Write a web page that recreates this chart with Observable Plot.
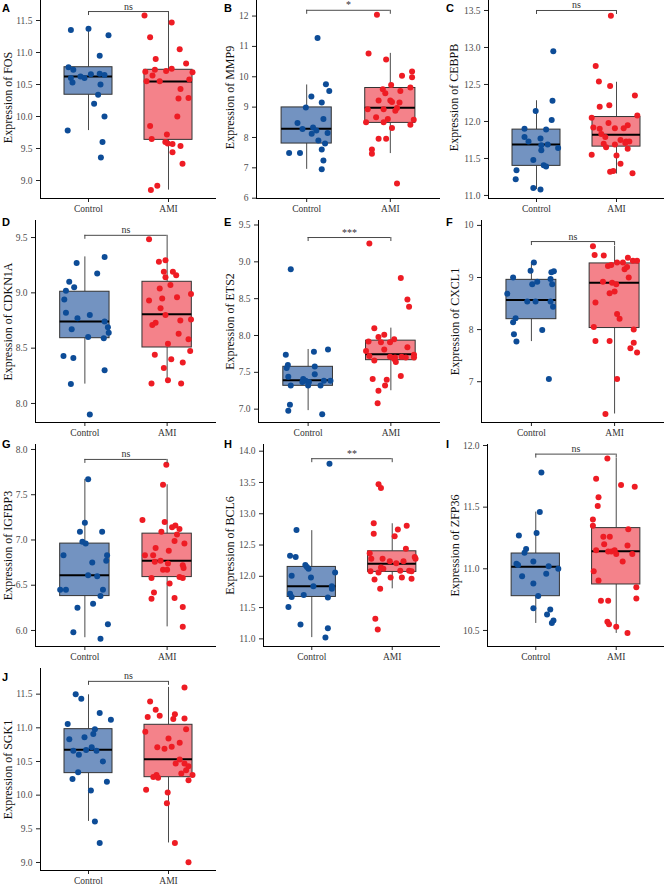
<!DOCTYPE html>
<html><head><meta charset="utf-8">
<script src="https://cdn.jsdelivr.net/npm/d3@7"></script>
<script src="https://cdn.jsdelivr.net/npm/@observablehq/plot@0.6"></script>
<style>
html,body{margin:0;padding:0;background:#fff;}
#fig{position:relative;width:665px;height:886px;overflow:hidden;background:#fff;}
.panel{position:absolute;}
.panel svg{overflow:visible;}
.letter{position:absolute;font-family:"Liberation Sans",Arial,sans-serif;font-weight:bold;font-size:11px;line-height:12px;color:#000;}
</style></head><body><div id="fig"></div>
<script>
// ---------- data ----------
const groups = ["Control", "AMI"];
const genes = ["FOS","MMP9","CEBPB","CDKN1A","ETS2","CXCL1","IGFBP3","BCL6","ZFP36","SGK1"];
const letters = ["A","B","C","D","E","F","G","H","I","J"];
const significance = ["ns","*","ns","ns","***","ns","ns","**","ns","ns"];

// points: [expression, horizontal jitter (category units)]
const FOS_control = [[11.35,-0.22],[11.37,0.0],[11.27,0.25],[10.95,0.14],[10.77,-0.25],[10.73,-0.19],[10.60,-0.22],[10.53,-0.20],[10.625,-0.10],[10.60,-0.05],[10.66,0.03],[10.67,0.14],[10.65,0.20],[10.50,0.15],[10.34,0.12],[10.20,0.07],[10.00,0.20],[9.78,-0.26],[9.60,0.175],[9.36,0.155]];
const FOS_AMI = [[11.58,-0.30],[11.47,0.04],[11.24,-0.23],[11.05,0.14],[10.90,-0.16],[10.83,0.22],[10.70,-0.29],[10.73,-0.17],[10.71,-0.03],[10.745,0.04],[10.69,0.30],[10.64,-0.20],[10.55,-0.275],[10.55,-0.11],[10.58,0.26],[10.43,0.15],[10.28,0.125],[10.29,0.25],[10.00,0.11],[9.85,-0.23],[9.65,-0.21],[9.72,-0.02],[9.60,-0.04],[9.58,-0.01],[9.57,0.05],[9.54,0.15],[9.44,0.05],[9.26,0.175],[8.92,-0.14],[8.85,-0.22]];

const MMP9_control = [[11.28,0.13],[9.75,0.23],[9.53,0.27],[9.35,0.056],[8.99,-0.01],[9.15,0.18],[8.61,0.2],[8.48,-0.11],[8.28,-0.05],[8.33,0.076],[8.23,0.116],[8.12,0.06],[8.15,0.25],[7.90,0.14],[7.80,0.22],[7.60,0.18],[7.49,-0.21],[7.49,-0.08],[7.24,0.2],[6.95,0.18]];
const MMP9_AMI = [[12.04,-0.16],[10.77,-0.26],[10.57,-0.05],[10.17,0.26],[10.03,0.14],[9.98,0.26],[9.73,0.01],[9.59,-0.09],[9.46,-0.06],[9.53,0.12],[9.65,0.24],[9.22,-0.14],[9.22,0.0],[9.17,0.02],[9.15,0.11],[8.93,-0.27],[8.93,-0.08],[8.97,0.08],[8.88,0.06],[8.67,-0.17],[8.61,-0.03],[8.58,0.28],[8.50,-0.29],[8.50,-0.08],[8.42,0.24],[8.31,0.02],[7.96,-0.14],[7.96,-0.05],[7.60,-0.22],[7.46,-0.22],[6.48,0.08]];

const CEBPB_control = [[12.95,0.21],[12.28,0.2],[12.02,0.19],[12.14,-0.01],[11.90,-0.15],[11.89,0.12],[11.79,-0.15],[11.73,-0.1],[11.77,0.05],[11.68,0.06],[11.69,0.14],[11.64,0.27],[11.61,0.06],[11.48,-0.04],[11.41,0.09],[11.39,0.12],[11.34,-0.25],[11.22,-0.26],[11.10,-0.04],[11.08,0.05]];
const CEBPB_AMI = [[13.43,-0.07],[12.75,-0.26],[12.54,-0.22],[12.48,-0.08],[12.35,0.23],[12.20,-0.21],[12.22,-0.09],[12.08,0.26],[12.05,-0.31],[11.92,-0.29],[11.98,-0.1],[11.90,-0.21],[11.91,-0.02],[11.91,0.09],[11.95,0.14],[11.83,-0.19],[11.79,-0.14],[11.75,0.05],[11.73,0.12],[11.73,0.16],[11.71,0.11],[11.69,-0.02],[11.70,-0.16],[11.65,-0.13],[11.63,0.14],[11.55,-0.31],[11.54,0.0],[11.43,0.05],[11.32,-0.08],[11.33,-0.04],[11.30,0.2]];

const CDKN1A_control = [[9.325,0.24],[9.27,-0.1],[9.175,0.15],[9.10,-0.19],[9.05,-0.13],[9.02,-0.23],[8.94,-0.25],[8.82,-0.23],[8.77,-0.09],[8.80,0.06],[8.74,0.24],[8.69,0.28],[8.64,0.29],[8.67,-0.16],[8.60,0.04],[8.59,0.23],[8.43,-0.26],[8.41,-0.14],[8.30,0.24],[8.175,-0.17],[7.90,0.06]];
const CDKN1A_AMI = [[9.485,-0.22],[9.28,-0.1],[9.295,-0.02],[9.19,-0.04],[9.19,0.07],[9.16,0.11],[9.14,-0.02],[9.07,0.04],[9.04,-0.09],[8.99,0.29],[8.96,0.12],[8.95,-0.06],[8.93,-0.22],[8.86,-0.08],[8.80,-0.02],[8.75,0.16],[8.76,0.29],[8.73,-0.14],[8.71,-0.18],[8.63,0.14],[8.58,0.26],[8.54,0.01],[8.475,0.28],[8.44,-0.15],[8.40,0.05],[8.37,0.19],[8.32,-0.04],[8.21,0.01],[8.18,-0.19],[8.18,0.17]];

const ETS2_control = [[8.90,-0.21],[7.74,-0.27],[7.60,-0.245],[7.56,-0.26],[7.78,0.07],[7.81,0.24],[7.58,0.08],[7.475,0.08],[7.44,-0.24],[7.41,-0.06],[7.385,-0.03],[7.37,0.01],[7.385,0.19],[7.385,0.27],[7.32,0.15],[7.32,0.0],[7.32,-0.21],[7.37,-0.07],[7.06,-0.22],[6.98,-0.24],[6.93,0.17]];
const ETS2_AMI = [[9.25,-0.26],[8.78,0.12],[8.49,0.2],[8.39,0.22],[8.10,-0.2],[8.01,-0.08],[7.98,-0.15],[7.95,0.04],[7.91,-0.01],[7.92,-0.27],[7.91,-0.12],[7.81,-0.08],[7.79,-0.3],[7.84,0.2],[7.72,-0.26],[7.71,-0.01],[7.70,0.05],[7.71,0.13],[7.70,0.18],[7.74,0.28],[7.70,0.28],[7.66,-0.2],[7.68,0.04],[7.64,0.06],[7.45,0.12],[7.41,-0.22],[7.40,-0.05],[7.32,-0.07],[7.25,-0.15],[7.08,-0.16]];

const CXCL1_control = [[9.29,0.03],[9.13,-0.01],[9.00,-0.22],[8.97,0.23],[9.12,0.27],[9.10,0.24],[8.92,0.07],[8.87,0.01],[8.87,0.25],[8.69,-0.29],[8.54,-0.05],[8.54,0.05],[8.54,0.23],[8.44,0.26],[8.22,-0.19],[8.14,-0.22],[7.99,0.13],[7.91,-0.21],[7.77,-0.18],[7.05,0.21]];
const CXCL1_AMI = [[9.60,-0.26],[9.43,-0.24],[9.42,-0.13],[9.22,-0.08],[9.24,-0.04],[9.29,0.03],[9.29,0.10],[9.38,0.16],[9.32,0.22],[9.32,0.27],[9.16,0.12],[9.20,0.15],[9.00,0.17],[8.92,-0.14],[8.90,-0.03],[8.87,0.02],[8.70,-0.06],[8.73,0.0],[8.52,-0.23],[8.30,0.03],[8.21,0.06],[8.05,-0.25],[8.00,0.23],[7.78,-0.23],[7.78,-0.06],[7.75,0.23],[7.64,0.19],[7.56,0.27],[7.05,0.03],[6.38,-0.11]];

const IGFBP3_control = [[7.67,0.04],[7.19,0.0],[7.09,-0.06],[7.09,0.21],[6.98,-0.03],[6.96,0.01],[6.83,-0.26],[6.83,0.27],[6.77,0.26],[6.75,0.09],[6.61,0.04],[6.60,0.15],[6.45,-0.3],[6.45,-0.23],[6.45,0.22],[6.38,0.19],[6.295,0.1],[6.25,-0.09],[6.07,0.28],[5.98,-0.14],[5.91,0.19]];
const IGFBP3_AMI = [[7.83,-0.01],[7.61,-0.05],[7.22,-0.3],[7.20,-0.03],[7.14,0.06],[7.16,0.1],[7.12,0.15],[7.09,-0.07],[7.06,0.12],[6.99,0.09],[6.96,0.21],[6.91,-0.14],[6.83,-0.27],[6.83,-0.17],[6.88,0.02],[6.76,-0.15],[6.77,-0.08],[6.74,0.01],[6.72,0.19],[6.69,0.2],[6.67,-0.05],[6.67,0.0],[6.58,-0.19],[6.59,0.15],[6.58,0.19],[6.52,0.03],[6.42,-0.16],[6.35,-0.19],[6.36,0.09],[6.26,0.19],[6.04,0.19]];

const BCL6_control = [[13.80,0.22],[12.74,-0.19],[12.33,-0.27],[12.31,-0.2],[12.18,-0.08],[12.15,-0.06],[12.12,-0.04],[12.06,0.29],[12.01,-0.25],[11.98,-0.01],[11.84,0.02],[11.84,0.25],[11.80,0.25],[11.72,-0.27],[11.67,-0.25],[11.70,-0.1],[11.66,0.2],[11.51,-0.29],[11.23,-0.14],[11.17,0.2],[11.02,0.17]];
const BCL6_AMI = [[13.47,-0.17],[13.41,-0.14],[12.85,-0.23],[12.81,0.18],[12.75,0.07],[12.68,-0.23],[12.64,0.03],[12.44,0.17],[12.37,-0.28],[12.28,-0.26],[12.28,-0.12],[12.24,-0.03],[12.31,0.28],[12.28,0.29],[12.24,0.14],[12.21,0.05],[12.14,-0.14],[12.12,-0.11],[12.08,-0.27],[12.06,-0.17],[12.09,0.1],[12.09,0.21],[12.08,0.24],[11.95,-0.22],[11.98,-0.02],[11.98,0.12],[11.96,0.24],[11.80,-0.15],[11.32,-0.21],[11.15,-0.18]];

const ZFP36_control = [[11.78,0.07],[11.46,0.05],[11.29,0.01],[11.27,-0.21],[11.16,-0.12],[11.13,-0.14],[11.06,-0.03],[11.04,-0.24],[11.03,-0.22],[11.02,0.16],[11.00,0.28],[10.96,0.13],[10.94,-0.17],[10.88,-0.03],[10.78,0.03],[10.68,-0.03],[10.67,0.18],[10.63,0.14],[10.58,0.22],[10.56,0.2]];
const ZFP36_AMI = [[11.895,-0.11],[11.73,-0.25],[11.68,0.06],[11.665,0.23],[11.58,-0.22],[11.51,-0.23],[11.40,-0.29],[11.35,-0.29],[11.32,0.15],[11.26,-0.16],[11.26,-0.08],[11.20,-0.15],[11.19,0.14],[11.15,-0.25],[11.14,-0.1],[11.14,-0.06],[11.15,-0.02],[11.12,0.0],[11.12,0.2],[11.06,0.08],[10.98,-0.28],[10.905,-0.22],[10.85,0.25],[10.76,0.25],[10.74,-0.19],[10.74,-0.1],[10.57,-0.11],[10.55,-0.09],[10.53,0.0],[10.48,0.14]];

const SGK1_control = [[11.50,-0.16],[11.43,-0.09],[11.22,0.14],[11.12,0.28],[11.055,-0.26],[10.98,0.08],[10.91,0.06],[10.86,-0.05],[10.83,-0.24],[10.71,0.04],[10.67,-0.03],[10.66,0.1],[10.66,-0.19],[10.60,-0.12],[10.50,0.18],[10.34,-0.13],[10.24,-0.2],[10.20,0.23],[10.07,0.03],[9.61,0.08],[9.29,0.14]];
const SGK1_AMI = [[11.60,0.2],[11.39,-0.23],[11.27,-0.16],[11.18,-0.11],[11.16,-0.26],[11.20,0.08],[11.13,0.06],[11.14,0.2],[10.98,0.22],[10.94,-0.29],[10.84,0.0],[10.78,0.14],[10.72,0.04],[10.71,-0.14],[10.69,-0.05],[10.53,0.14],[10.47,0.09],[10.47,0.2],[10.43,0.25],[10.37,0.22],[10.32,0.16],[10.30,0.3],[10.30,-0.15],[10.27,-0.19],[10.26,-0.13],[10.22,0.25],[10.08,-0.28],[10.04,-0.01],[9.88,-0.02],[9.29,0.08],[9.005,0.25]];

// box summaries: [whisker low, Q1, median, Q3, whisker high]
const FOS_box = [[9.78,10.34,10.625,10.77,11.37],[8.85,9.635,10.547,10.73,11.58]];
const MMP9_box = [[6.95,7.80,8.29,8.99,9.73],[7.47,8.48,8.98,9.63,10.77]];
const CEBPB_box = [[11.08,11.40,11.69,11.89,12.28],[11.29,11.66,11.82,12.06,12.53]];
const CDKN1A_box = [[8.175,8.59,8.74,9.01,9.325],[8.18,8.506,8.807,9.10,9.485]];
const ETS2_box = [[6.98,7.317,7.394,7.575,7.81],[7.25,7.665,7.747,7.93,8.10]];
const CXCL1_box = [[7.77,8.20,8.57,8.955,9.29],[6.38,8.03,8.90,9.27,9.60]];
const IGFBP3_box = [[5.92,6.38,6.61,6.96,7.67],[6.04,6.59,6.77,7.07,7.61]];
const BCL6_box = [[11.02,11.67,11.84,12.15,12.73],[11.80,12.07,12.20,12.40,12.84]];
const ZFP36_box = [[10.557,10.778,11.016,11.124,11.46],[10.476,10.873,11.143,11.33,11.895]];
const SGK1_box = [[9.61,10.327,10.673,10.98,11.49],[9.29,10.267,10.535,11.045,11.60]];

// axis ranges, ticks and bracket heights
const yRanges = [[8.719,11.875],[5.99,12.644],[10.959,13.689],[7.828,9.654],[6.819,9.561],[6.217,10.094],[5.823,8.055],[10.878,14.107],[10.37,12.008],[8.881,11.881]];
const yTicks = [
  [9.0,9.5,10.0,10.5,11.0,11.5],
  [6,7,8,9,10,11,12],
  [11.0,11.5,12.0,12.5,13.0,13.5],
  [8.0,8.5,9.0,9.5],
  [7.0,7.5,8.0,8.5,9.0,9.5],
  [7,8,9,10],
  [6.0,6.5,7.0,7.5,8.0],
  [11.0,11.5,12.0,12.5,13.0,13.5,14.0],
  [10.5,11.0,11.5,12.0],
  [9.0,9.5,10.0,10.5,11.0,11.5]
];
const tickDecimals = [1,0,1,1,1,0,1,1,1,1];
const bracketY = [11.64,12.19,13.5,9.52,9.33,9.69,7.89,13.88,11.93,11.69];

const pointSets = [[FOS_control,FOS_AMI],[MMP9_control,MMP9_AMI],[CEBPB_control,CEBPB_AMI],[CDKN1A_control,CDKN1A_AMI],[ETS2_control,ETS2_AMI],[CXCL1_control,CXCL1_AMI],[IGFBP3_control,IGFBP3_AMI],[BCL6_control,BCL6_AMI],[ZFP36_control,ZFP36_AMI],[SGK1_control,SGK1_AMI]];
const boxSets = [FOS_box,MMP9_box,CEBPB_box,CDKN1A_box,ETS2_box,CXCL1_box,IGFBP3_box,BCL6_box,ZFP36_box,SGK1_box];

// ---------- styles / layout ----------
const boxFill = {Control: "#7393C1", AMI: "#F4828A"};
const dotFill = {Control: "#0D4C97", AMI: "#EE1C24"};
const xDomain = [0.4, 2.6];
const boxHalf = 0.3;
const colLeft = [0, 222, 444];
const colWidth = [222, 222, 221];
const colMarginRight = [6, 4, 1];
const marginLefts = [40, 34, 44, 35, 36, 37, 35, 41, 43, 40];
const titleX = [3, 3, 5, 3, 3, 6, 3, 3, 6, 3];
const letterBaseline = [11.5, 226, 448, 681];
const serif = '"Liberation Serif", "Times New Roman", serif';

const fig = document.getElementById("fig");

genes.forEach((gene, i) => {
  const r = Math.floor(i / 3), c = i % 3;
  const [ctrl, ami] = pointSets[i];
  const pts = [
    ...ctrl.map(([v, dx]) => ({x: 1 + dx, y: v, grp: groups[0]})),
    ...ami.map(([v, dx]) => ({x: 2 + dx, y: v, grp: groups[1]}))
  ];
  const boxes = boxSets[i].map(([lo, q1, med, q3, hi], k) => ({grp: groups[k], c: k + 1, lo, q1, med, q3, hi}));
  const [y0, y1] = yRanges[i];
  const tip = (y1 - y0) * 4 / 202;
  const sig = [{x1: 1, x2: 2, y: bracketY[i], label: significance[i]}];
  const sigEnds = [{x: 1, y: bracketY[i]}, {x: 2, y: bracketY[i]}];
  const mL = marginLefts[i];
  const fmt = d3.format(tickDecimals[i] ? ".1f" : "d");

  const svg = Plot.plot({
    width: colWidth[c],
    height: 232,
    marginTop: 4,
    marginBottom: 26,
    marginLeft: mL,
    marginRight: colMarginRight[c],
    style: {fontFamily: serif, background: "transparent", overflow: "visible"},
    x: {domain: xDomain},
    y: {domain: [y0, y1]},
    color: {type: "identity"},
    marks: [
      // whiskers
      Plot.ruleX(boxes, {x: "c", y1: "lo", y2: "q1", stroke: "#4a4a4a", strokeWidth: 1}),
      Plot.ruleX(boxes, {x: "c", y1: "q3", y2: "hi", stroke: "#4a4a4a", strokeWidth: 1}),
      // boxes
      Plot.rect(boxes, {x1: d => d.c - boxHalf, x2: d => d.c + boxHalf, y1: "q1", y2: "q3", fill: d => boxFill[d.grp], stroke: "#333333", strokeWidth: 1}),
      Plot.ruleY(boxes, {x1: d => d.c - boxHalf, x2: d => d.c + boxHalf, y: "med", stroke: "#000", strokeWidth: 2}),
      // jittered points
      Plot.dot(pts, {x: "x", y: "y", r: 3, fill: d => dotFill[d.grp], stroke: "none"}),
      // significance bracket
      Plot.ruleY(sig, {x1: "x1", x2: "x2", y: "y", stroke: "#4a4a4a", strokeWidth: 1}),
      Plot.ruleX(sigEnds, {x: "x", y1: "y", y2: d => d.y - tip, stroke: "#4a4a4a", strokeWidth: 1}),
      Plot.text(sig, {x: d => (d.x1 + d.x2) / 2, y: "y", text: "label", dy: -2, lineAnchor: "bottom", fontSize: 10, fill: "#333", fontFamily: serif}),
      // axes
      Plot.axisY({ticks: yTicks[i], tickFormat: fmt, tickSize: 4, tickPadding: 4, fontSize: 9.5, label: null, stroke: "#222", fill: "#4d4d4d"}),
      Plot.axisX({ticks: [1, 2], tickFormat: d => groups[d - 1], tickSize: 4, tickPadding: 3, fontSize: 9.5, label: null, stroke: "#222", fill: "#333"}),
      Plot.ruleX([xDomain[0]], {stroke: "#000", strokeWidth: 1}),
      Plot.ruleY([y0], {stroke: "#000", strokeWidth: 1}),
      // y title
      Plot.text([`Expression of ${gene}`], {text: d => d, frameAnchor: "left", textAnchor: "middle", rotate: -90, dx: -(mL - titleX[i]), lineAnchor: "top", fontSize: 12, fill: "#111", fontFamily: serif})
    ]
  });

  const wrap = document.createElement("div");
  wrap.className = "panel";
  wrap.style.left = colLeft[c] + "px";
  wrap.style.top = (224 * r - 8) + "px";
  wrap.appendChild(svg);
  fig.appendChild(wrap);

  const lab = document.createElement("div");
  lab.className = "letter";
  lab.textContent = letters[i];
  lab.style.left = (colLeft[c] + 2) + "px";
  lab.style.top = (letterBaseline[r] - 10) + "px";
  fig.appendChild(lab);
});
</script></body></html>
